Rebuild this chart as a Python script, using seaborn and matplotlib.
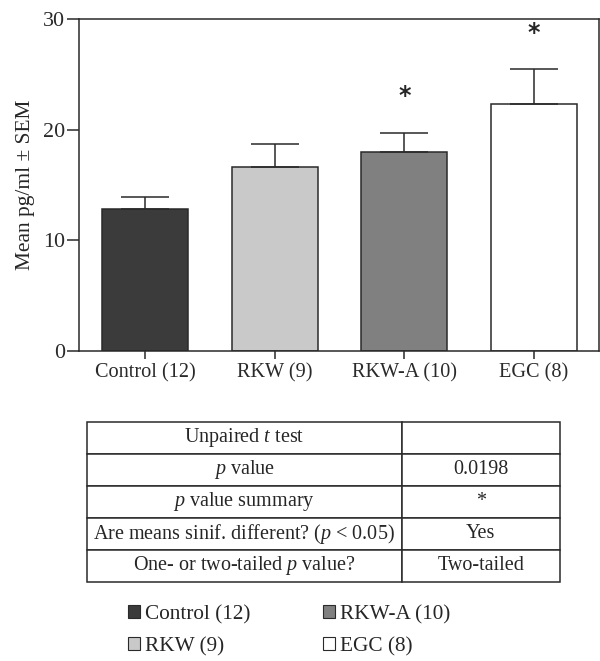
import numpy as np
import pandas as pd
import matplotlib
matplotlib.use("Agg")
import matplotlib.pyplot as plt
import seaborn as sns

groups = ["Control (12)", "RKW (9)", "RKW-A (10)", "EGC (8)"]
means = [12.85, 16.65, 18.0, 22.35]
sem = [1.1, 2.05, 1.7, 3.15]
colors = ["#3b3b3b", "#c9c9c9", "#808080", "#ffffff"]
star_groups = ["RKW-A (10)", "EGC (8)"]
star_y = [23.1, 28.8]

table_rows = [
    ["Unpaired $t$ test", ""],
    ["$p$ value", "0.0198"],
    ["$p$ value summary", "*"],
    ["Are means sinif. different? ($p$ < 0.05)", "Yes"],
    ["One- or two-tailed $p$ value?", "Two-tailed"],
]

sns.set_style("ticks")
plt.rcParams["font.family"] = ["Liberation Serif", "DejaVu Serif"]
plt.rcParams["mathtext.fontset"] = "custom"
plt.rcParams["mathtext.rm"] = "Liberation Serif"
plt.rcParams["mathtext.it"] = "Liberation Serif:italic"

df = pd.DataFrame({"group": groups, "mean": means, "sem": sem})
dark = "#2a2a2a"

fig = plt.figure(figsize=(6, 6.61), dpi=100)
ax = fig.add_axes([78.5 / 600, 1 - 351 / 661, (599 - 78.5) / 600, (351 - 19.3) / 661])

sns.barplot(data=df, x="group", y="mean", hue="group", palette=colors,
            width=0.664, edgecolor=dark, linewidth=1.1, legend=False, ax=ax)

pos = np.arange(len(groups))
ax.errorbar(pos, df["mean"], yerr=[np.zeros(len(groups)), df["sem"]],
            fmt="none", ecolor=dark, elinewidth=1.1, capsize=17, capthick=1.1)

for g, yy in zip(star_groups, star_y):
    ax.text(groups.index(g), yy, "*", ha="center", va="center", fontsize=17,
            family="DejaVu Sans", fontweight="bold")

ax.set_ylim(0, 30)
ax.set_xlim(-0.517, 3.502)
ax.set_yticks([0, 10, 20, 30])
ax.set_xlabel("")
ax.set_ylabel("Mean pg/ml ± SEM", fontsize=15.4, labelpad=6)
ax.tick_params(axis="y", labelsize=15.8, length=8.5, width=1.1, pad=1, colors=dark)
ax.tick_params(axis="x", labelsize=14.6, length=6, width=1.1, pad=3, colors=dark)
for s in ax.spines.values():
    s.set_linewidth(1.1)
    s.set_color(dark)

# table of t-test results
tax = fig.add_axes([86.7 / 600, 1 - 581.7 / 661, (560 - 86.7) / 600, (581.7 - 421.7) / 661])
tax.axis("off")
tbl = tax.table(cellText=table_rows, cellLoc="center", bbox=[0, 0, 1, 1],
                colWidths=[315 / 473.3, 158.3 / 473.3])
tbl.auto_set_font_size(False)
tbl.set_fontsize(14.5)
for cell in tbl.get_celld().values():
    cell.set_linewidth(1.1)
    cell.set_edgecolor(dark)

# legend
handles = [plt.Rectangle((0, 0), 1, 1, facecolor=c, edgecolor=dark, linewidth=0.8)
           for c in colors]
fig.legend(handles, groups, ncol=2, frameon=False, fontsize=15.3,
           loc="upper left", bbox_to_anchor=(128 / 600, 1 - 605 / 661),
           handlelength=0.56, handleheight=0.56, handletextpad=0.25,
           columnspacing=3.4, labelspacing=0.6, borderaxespad=0, borderpad=0)

fig.savefig("out.png", dpi=100)
